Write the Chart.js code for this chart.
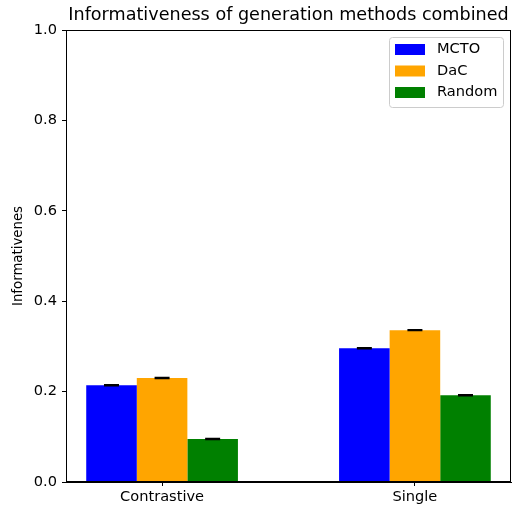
<!DOCTYPE html>
<html>
<head>
<meta charset="utf-8">
<script src="https://cdn.jsdelivr.net/npm/chart.js@4"></script>
<style>
  body { margin: 0; background: #fff; }
  #wrap { width: 512px; height: 508px; }
</style>
</head>
<body>
<div id="wrap"><canvas id="chart" width="512" height="508"></canvas></div>
<script>
const categories = ["Contrastive", "Single"];
const methods = ["MCTO", "DaC", "Random"];
const colors = ["#0000ff", "#ffa500", "#008000"];
const mctoValues = [0.214, 0.296];
const dacValues = [0.230, 0.336];
const randomValues = [0.095, 0.192];
const errors = [[0.001, 0.001], [0.001, 0.001], [0.001, 0.001]];
const yTicks = [0, 0.2, 0.4, 0.6, 0.8, 1.0];

const font = "DejaVu Sans";
const fontSize = 14.6;
const seriesValues = [mctoValues, dacValues, randomValues];

// matplotlib-ish extras: frame, title, legend box, error bars
const extras = {
  id: "extras",
  afterDatasetsDraw(chart) {
    const ctx = chart.ctx;
    const y = chart.scales.y;
    ctx.save();
    ctx.strokeStyle = "#000";
    ctx.lineWidth = 1.5;
    chart.data.datasets.forEach((ds, i) => {
      const meta = chart.getDatasetMeta(i);
      meta.data.forEach((bar, j) => {
        const v = ds.data[j].y;
        const e = errors[i][j];
        const top = y.getPixelForValue(v + e);
        const bot = y.getPixelForValue(v - e);
        ctx.beginPath();
        ctx.moveTo(bar.x, top); ctx.lineTo(bar.x, bot);
        ctx.moveTo(bar.x - 7.5, top); ctx.lineTo(bar.x + 7.5, top);
        ctx.moveTo(bar.x - 7.5, bot); ctx.lineTo(bar.x + 7.5, bot);
        ctx.stroke();
      });
    });
    ctx.restore();
  },
  afterDraw(chart) {
    const ctx = chart.ctx;
    const a = chart.chartArea;
    ctx.save();
    // frame
    ctx.strokeStyle = "#000";
    ctx.lineWidth = 1;
    ctx.strokeRect(a.left + 0.5, a.top + 0.5, a.right - a.left - 1, a.bottom - a.top - 1);
    // title
    ctx.fillStyle = "#000";
    ctx.font = "17.6px '" + font + "'";
    ctx.textAlign = "center";
    ctx.textBaseline = "middle";
    ctx.fillText("Informativeness of generation methods combined", (a.left + a.right) / 2, 15);
    // legend
    const lx = 389, ly = 37, lw = 114, lh = 70;
    ctx.fillStyle = "rgba(255,255,255,0.8)";
    ctx.strokeStyle = "#cccccc";
    ctx.beginPath();
    ctx.roundRect(lx + 0.5, ly + 0.5, lw, lh, 3);
    ctx.fill();
    ctx.stroke();
    ctx.font = fontSize + "px '" + font + "'";
    ctx.textAlign = "left";
    methods.forEach((m, i) => {
      const cy = 49.5 + i * 21.5;
      ctx.fillStyle = colors[i];
      ctx.fillRect(395, cy - 5.5, 30, 11);
      ctx.fillStyle = "#000";
      ctx.fillText(m, 437, cy);
    });
    ctx.restore();
  }
};

const datasets = methods.map((m, i) => ({
  label: m,
  data: categories.map((c, j) => ({ x: j, y: seriesValues[i][j] })),
  backgroundColor: colors[i],
  borderWidth: 0,
  categoryPercentage: 0.6,
  barPercentage: 1.0
}));

new Chart(document.getElementById("chart"), {
  type: "bar",
  data: { datasets },
  plugins: [extras],
  options: {
    responsive: false,
    animation: false,
    layout: { padding: { top: 30, right: 1, left: 0, bottom: 0 } },
    plugins: { legend: { display: false }, tooltip: { enabled: false }, title: { display: false } },
    scales: {
      x: {
        type: "linear",
        min: -0.38,
        max: 1.38,
        offset: false,
        afterBuildTicks: s => { s.ticks = categories.map((c, j) => ({ value: j })); },
        afterFit: s => { s.height = 26; },
        grid: { offset: false, drawOnChartArea: false, tickLength: 4, color: "#000", tickColor: "#000" },
        border: { display: true, color: "#000" },
        ticks: {
          callback: v => categories[v],
          color: "#000",
          font: { family: font, size: fontSize },
          padding: 2,
          maxRotation: 0
        }
      },
      y: {
        min: 0,
        max: 1,
        afterBuildTicks: s => { s.ticks = yTicks.map(v => ({ value: v })); },
        afterFit: s => { s.width = 66; },
        grid: { drawOnChartArea: false, tickLength: 4, color: "#000", tickColor: "#000" },
        border: { display: true, color: "#000" },
        ticks: {
          callback: v => v.toFixed(1),
          color: "#000",
          font: { family: font, size: fontSize },
          padding: 5
        },
        title: {
          display: true,
          text: "Informativenes",
          color: "#000",
          font: { family: font, size: 13.3 },
          padding: { top: 11, bottom: 0 }
        }
      }
    }
  }
});
</script>
</body>
</html>
